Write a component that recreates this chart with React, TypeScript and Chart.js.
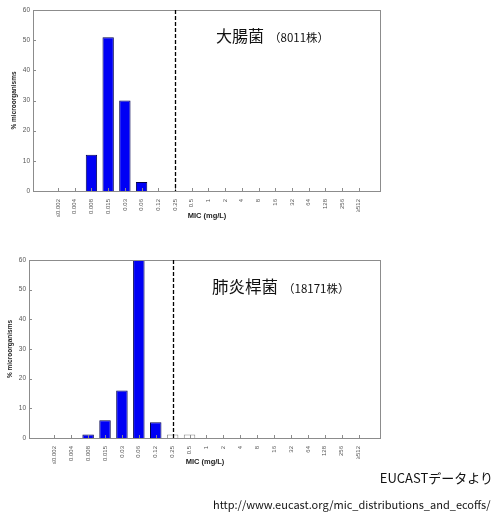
import { useEffect, useRef } from "react";
import { Chart, registerables } from "chart.js";

Chart.register(...registerables);

// ---- data ----
const categories = [
  "≤0.002", "0.004", "0.008", "0.015", "0.03", "0.06", "0.12", "0.25", "0.5",
  "1", "2", "4", "8", "16", "32", "64", "128", "256", "≥512",
];
const ecoliValues: (number | null)[] = [
  null, null, 12, 51, 30, 3, null, null, null, null,
  null, null, null, null, null, null, null, null, null,
];
const kpneuWildValues: (number | null)[] = [
  null, null, 1.2, 6, 16, 61, 5.3, null, null, null,
  null, null, null, null, null, null, null, null, null,
];
const kpneuNonWildValues: (number | null)[] = [
  null, null, null, null, null, null, null, 1.2, 1.2, null,
  null, null, null, null, null, null, null, null, null,
];
const ecoffLabel = "0.25";
const yTicks = [0, 10, 20, 30, 40, 50, 60];
const xTitle = "MIC (mg/L)";
const yTitle = "% microorganisms";

const FONT = "'Liberation Sans', Arial, sans-serif";
const JFONT = "'Noto Sans CJK JP', 'Noto Sans', sans-serif";
const BLUE = "#0000f5";
const NAVY = "#000050";

const toPoints = (vals: (number | null)[]) => vals.map((v, i) => ({ x: i, y: v }));

const framePlugin = {
  id: "frameAndCutoff",
  afterDatasetsDraw(chart: any) {
    const { ctx, chartArea: a, scales } = chart;
    const line = (x1: number, y1: number, x2: number, y2: number) => {
      ctx.beginPath();
      ctx.moveTo(x1, y1);
      ctx.lineTo(x2, y2);
      ctx.stroke();
    };
    ctx.save();
    ctx.strokeStyle = "#8c8c8c";
    ctx.lineWidth = 1;
    ctx.strokeRect(a.left + 0.5, a.top + 0.5, a.right - a.left - 1, a.bottom - a.top);
    scales.y.ticks.forEach((t: any) => {
      const y = Math.round(scales.y.getPixelForValue(t.value)) + 0.5;
      line(a.left, y, a.left + 3, y);
    });
    scales.x.ticks.forEach((t: any) => {
      const x = Math.round(scales.x.getPixelForValue(t.value)) + 0.5;
      line(x, a.bottom, x, a.bottom - 3);
    });
    const xc = Math.round(scales.x.getPixelForValue(categories.indexOf(ecoffLabel))) + 0.5;
    ctx.setLineDash([4, 2]);
    ctx.strokeStyle = "#000";
    ctx.lineWidth = 1.3;
    line(xc, a.top, xc, a.bottom);
    ctx.restore();
  },
};

type PanelProps = {
  wild: (number | null)[];
  nonWild?: (number | null)[];
  width: number;
  height: number;
  top: number;
  padTop: number;
  yWidth: number;
  xHeight: number;
  yTitlePad: number;
  xTitlePad: number;
};

function Panel(p: PanelProps) {
  const ref = useRef<HTMLCanvasElement>(null);
  useEffect(() => {
    if (!ref.current) return;
    const datasets: any[] = [
      {
        data: toPoints(p.wild),
        backgroundColor: BLUE,
        borderColor: NAVY,
        borderWidth: 1,
        borderSkipped: "bottom",
        grouped: false,
        barPercentage: 0.68,
        categoryPercentage: 1,
      },
    ];
    if (p.nonWild) {
      datasets.push({
        data: toPoints(p.nonWild),
        backgroundColor: "#ffffff",
        borderColor: "#8a8a8a",
        borderWidth: 1,
        borderSkipped: "bottom",
        grouped: false,
        barPercentage: 0.68,
        categoryPercentage: 1,
      });
    }
    const chart = new Chart(ref.current, {
      type: "bar",
      data: { datasets },
      options: {
        responsive: false,
        animation: false,
        layout: { padding: { left: 0, top: p.padTop, right: 19, bottom: 0 } },
        plugins: { legend: { display: false }, tooltip: { enabled: false } },
        scales: {
          x: {
            type: "linear",
            min: -0.95,
            max: 18.78,
            afterBuildTicks: (s: any) => {
              s.ticks = categories.map((_, i) => ({ value: i }));
            },
            afterFit: (s: any) => {
              s.height = p.xHeight;
            },
            grid: { display: false, drawTicks: false },
            border: { display: false },
            ticks: {
              autoSkip: false,
              minRotation: 90,
              maxRotation: 90,
              padding: 8,
              color: "#555",
              font: { family: FONT, size: 6 },
              callback: (v: any) => categories[v] ?? "",
            },
            title: {
              display: true,
              text: xTitle,
              color: "#222",
              font: { family: FONT, size: 7.5, weight: "bold" },
              padding: { top: 0, bottom: p.xTitlePad },
            },
          },
          y: {
            min: 0,
            max: 60,
            afterBuildTicks: (s: any) => {
              s.ticks = yTicks.map((v) => ({ value: v }));
            },
            afterFit: (s: any) => {
              s.width = p.yWidth;
            },
            grid: { display: false, drawTicks: false },
            border: { display: false },
            ticks: {
              padding: 3,
              color: "#555",
              font: { family: FONT, size: 6.5 },
            },
            title: {
              display: true,
              text: yTitle,
              color: "#222",
              font: { family: FONT, size: 6.5, weight: "bold" },
              padding: { top: p.yTitlePad, bottom: 0 },
            },
          },
        },
      } as any,
      plugins: [framePlugin],
    });
    return () => chart.destroy();
  }, []);
  return (
    <canvas
      ref={ref}
      width={p.width}
      height={p.height}
      style={{ position: "absolute", left: 0, top: p.top, width: p.width, height: p.height }}
    />
  );
}

export default function App() {
  return (
    <div
      style={{
        position: "absolute",
        left: 0,
        top: 0,
        width: 494,
        height: 513,
        background: "#fff",
        overflow: "hidden",
        fontFamily: JFONT,
        color: "#111",
      }}
    >
      <Panel
        wild={ecoliValues}
        width={400}
        height={230}
        top={0}
        padTop={10}
        yWidth={33}
        xHeight={39}
        yTitlePad={10}
        xTitlePad={9.5}
      />
      <Panel
        wild={kpneuWildValues}
        nonWild={kpneuNonWildValues}
        width={400}
        height={235}
        top={240}
        padTop={20}
        yWidth={29}
        xHeight={37}
        yTitlePad={6}
        xTitlePad={8.5}
      />
      <div style={{ position: "absolute", left: 216, top: 24, lineHeight: "22px", whiteSpace: "nowrap" }}>
        <span style={{ fontSize: 16 }}>大腸菌</span>
        <span style={{ fontSize: 11.5, marginLeft: 5 }}>（8011株）</span>
      </div>
      <div style={{ position: "absolute", left: 212, top: 275, lineHeight: "22px", whiteSpace: "nowrap" }}>
        <span style={{ fontSize: 16.5 }}>肺炎桿菌</span>
        <span style={{ fontSize: 11.5, marginLeft: 5 }}>（18171株）</span>
      </div>
      <div style={{ position: "absolute", right: 1, top: 469, lineHeight: "18px", fontSize: 13, whiteSpace: "nowrap" }}>
        EUCASTデータより
      </div>
      <div style={{ position: "absolute", left: 213, top: 496, lineHeight: "16px", fontSize: 11, whiteSpace: "nowrap" }}>
        http://www.eucast.org/mic_distributions_and_ecoffs/
      </div>
    </div>
  );
}
